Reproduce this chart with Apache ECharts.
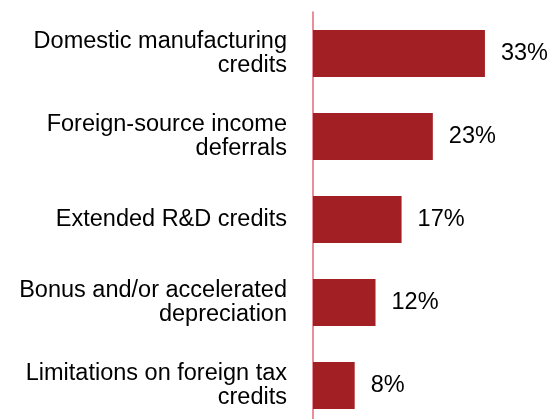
<!DOCTYPE html>
<html>
<head>
<meta charset="utf-8">
<script src="https://cdn.jsdelivr.net/npm/echarts@6/dist/echarts.min.js"></script>
<style>
  html, body { margin: 0; padding: 0; background: #ffffff; overflow: hidden; }
  /* the plot runs slightly past the bottom edge of the page */
  #chart { width: 553px; height: 430px; }
</style>
</head>
<body>
<div id="chart"></div>
<script>
// Tax provisions, share of respondents (%)
const categories = [
  'Domestic manufacturing\ncredits',
  'Foreign-source income\ndeferrals',
  'Extended R&D credits',
  'Bonus and/or accelerated\ndepreciation',
  'Limitations on foreign tax\ncredits'
];
const values = [33, 23, 17, 12, 8];

const FONT = '"Liberation Sans", Arial, sans-serif';
const BAR_COLOR = '#A21F23';

const chart = echarts.init(document.getElementById('chart'), null, { renderer: 'canvas' });

chart.setOption({
  animation: false,
  backgroundColor: '#ffffff',
  grid: {
    left: 313,
    top: 12,
    right: 31.6,
    height: 415,
    containLabel: false
  },
  xAxis: {
    type: 'value',
    min: 0,
    max: 40,
    show: false
  },
  yAxis: {
    type: 'category',
    data: categories,
    inverse: true,
    axisLine: { show: true, lineStyle: { color: '#E2697D', width: 1.5 } },
    axisTick: { show: false },
    splitLine: { show: false },
    axisLabel: {
      margin: 26,
      color: '#000000',
      fontFamily: FONT,
      fontSize: 23.5,
      lineHeight: 23.5,
      align: 'right'
    }
  },
  series: [{
    type: 'bar',
    data: values,
    barWidth: 47,
    itemStyle: { color: BAR_COLOR },
    label: {
      show: true,
      position: 'right',
      distance: 16,
      color: '#000000',
      fontFamily: FONT,
      fontSize: 23.5,
      formatter: p => p.value + '%'
    }
  }]
});
</script>
</body>
</html>
